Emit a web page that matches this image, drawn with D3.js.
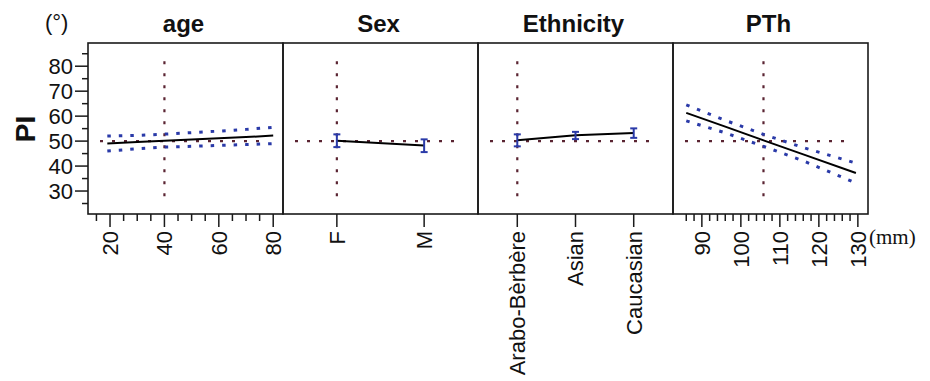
<!DOCTYPE html>
<html>
<head>
<meta charset="utf-8">
<script src="https://cdn.jsdelivr.net/npm/d3@7"></script>
<style>
  body { margin: 0; background: #fff; }
  svg text { font-family: "Liberation Sans", Arial, sans-serif; fill: #111; }
</style>
</head>
<body>
<div id="chart"></div>
<script>
// Giá trị
const yMajor = [30, 40, 50, 60, 70, 80];
const yMinor = d3.range(25, 90, 5);

const ageX     = [19, 30, 40, 50, 60, 70, 80];
const ageFit   = [49.0, 49.6, 50.1, 50.6, 51.1, 51.6, 52.2];
const ageUpper = [52.0, 52.3, 52.8, 53.4, 54.0, 54.7, 55.5];
const ageLower = [46.0, 46.9, 47.6, 47.9, 48.3, 48.6, 49.0];
const ageTicks = [20, 40, 60, 80];
const ageMinor = d3.range(15, 85, 5);

const sexCats = ["F", "M"];
const sexVals = [50.1, 48.2];
const sexLo   = [47.6, 45.6];
const sexHi   = [52.7, 50.7];

const ethCats = ["Arabo-Bèrbère", "Asian", "Caucasian"];
const ethVals = [50.3, 52.3, 53.2];
const ethLo   = [47.9, 50.8, 51.3];
const ethHi   = [52.7, 53.7, 55.1];

const pthX     = [86, 96, 106, 116, 129.5];
const pthFit   = [61.3, 55.8, 50.2, 44.7, 37.2];
const pthUpper = [64.5, 58.3, 52.6, 47.4, 41.2];
const pthLower = [58.1, 53.3, 47.8, 42.1, 33.2];
const pthTicks = [90, 100, 110, 120, 130];
const pthMinor = d3.range(86, 131, 2);

const titles = ["age", "Sex", "Ethnicity", "PTh"];

// Kích thước
const svg = d3.select("#chart").append("svg")
    .attr("width", 930)
    .attr("height", 381);

const panelLeft = 88, panelW = 195, panelTop = 43, panelBottom = 214;
const refColor = "#5a2432", ciColor = "#2a3aa8";

const y = d3.scaleLinear().domain([20.8, 89.3]).range([panelBottom, panelTop]);

// các thang đo x cho từng ô
const xs = [
    d3.scaleLinear().domain([11.9, 83.6]),
    d3.scalePoint().domain(sexCats).padding(0.617),
    d3.scalePoint().domain(ethCats).padding(0.675),
    d3.scaleLinear().domain([82.6, 132.6])
];
xs.forEach((s, i) => s.range([panelLeft + i * panelW, panelLeft + (i + 1) * panelW]));

const refX = [40, "F", "Arabo-Bèrbère", 105.8];

// Vẽ từng ô
xs.forEach((x, i) => {
    const x0 = panelLeft + i * panelW;
    const g = svg.append("g");

    // đường tham chiếu ngang (50) và dọc
    g.append("line")
        .attr("x1", x0 + 12).attr("x2", x0 + panelW - 18)
        .attr("y1", y(50)).attr("y2", y(50))
        .attr("stroke", refColor).attr("stroke-width", 2.2)
        .attr("stroke-dasharray", "3,9");
    g.append("line")
        .attr("x1", x(refX[i])).attr("x2", x(refX[i]))
        .attr("y1", y(82)).attr("y2", y(24.5))
        .attr("stroke", refColor).attr("stroke-width", 2.2)
        .attr("stroke-dasharray", "3,9");

    // khung
    g.append("rect")
        .attr("x", x0).attr("y", panelTop)
        .attr("width", panelW).attr("height", panelBottom - panelTop)
        .attr("fill", "none").attr("stroke", "#1a1a1a").attr("stroke-width", 1.6);

    // tiêu đề
    svg.append("text")
        .attr("x", x0 + panelW / 2 - 2)
        .attr("y", 32)
        .attr("text-anchor", "middle")
        .style("font-size", "24px")
        .style("font-weight", "bold")
        .text(titles[i]);
});

// Ô liên tục: đường hồi quy + khoảng tin cậy
function drawCurve(x, xv, fit, up, lo) {
    const line = d3.line().x((d, k) => x(xv[k])).y(d => y(d));
    [up, lo].forEach(arr => {
        svg.append("path")
            .datum(arr)
            .attr("fill", "none")
            .attr("stroke", ciColor)
            .attr("stroke-width", 3)
            .attr("stroke-dasharray", "3.5,8")
            .attr("d", line);
    });
    svg.append("path")
        .datum(fit)
        .attr("fill", "none")
        .attr("stroke", "#000")
        .attr("stroke-width", 2)
        .attr("d", line);
}
drawCurve(xs[0], ageX, ageFit, ageUpper, ageLower);
drawCurve(xs[3], pthX, pthFit, pthUpper, pthLower);

// Ô phân loại: điểm + thanh sai số
function drawCats(x, cats, vals, lo, hi) {
    svg.append("path")
        .datum(vals)
        .attr("fill", "none")
        .attr("stroke", "#000")
        .attr("stroke-width", 2)
        .attr("d", d3.line().x((d, k) => x(cats[k])).y(d => y(d)));
    cats.forEach((c, k) => {
        const cx = x(c);
        const eg = svg.append("g")
            .attr("stroke", ciColor).attr("stroke-width", 2);
        eg.append("line").attr("x1", cx).attr("x2", cx).attr("y1", y(lo[k])).attr("y2", y(hi[k]));
        eg.append("line").attr("x1", cx - 3.5).attr("x2", cx + 3.5).attr("y1", y(lo[k])).attr("y2", y(lo[k]));
        eg.append("line").attr("x1", cx - 3.5).attr("x2", cx + 3.5).attr("y1", y(hi[k])).attr("y2", y(hi[k]));
    });
}
drawCats(xs[1], sexCats, sexVals, sexLo, sexHi);
drawCats(xs[2], ethCats, ethVals, ethLo, ethHi);

// Trục y
const yAxis = svg.append("g");
yAxis.selectAll("line")
    .data(yMinor)
    .enter().append("line")
    .attr("x1", d => panelLeft - (yMajor.includes(d) ? 13 : 6))
    .attr("x2", panelLeft)
    .attr("y1", d => y(d)).attr("y2", d => y(d))
    .attr("stroke", "#1a1a1a").attr("stroke-width", 1.5);
yAxis.selectAll("text")
    .data(yMajor)
    .enter().append("text")
    .attr("x", panelLeft - 15)
    .attr("y", d => y(d))
    .attr("dy", "0.36em")
    .attr("text-anchor", "end")
    .style("font-size", "22px")
    .text(d => d);

// Trục x
function xAxis(x, major, minor) {
    const g = svg.append("g");
    g.selectAll("line")
        .data(minor)
        .enter().append("line")
        .attr("x1", d => x(d)).attr("x2", d => x(d))
        .attr("y1", panelBottom)
        .attr("y2", d => panelBottom + (major.includes(d) ? 13 : 7))
        .attr("stroke", "#1a1a1a").attr("stroke-width", 1.5);
    g.selectAll("text")
        .data(major)
        .enter().append("text")
        .attr("transform", d => `translate(${x(d)},231) rotate(-90)`)
        .attr("dy", "0.36em")
        .attr("text-anchor", "end")
        .style("font-size", "22px")
        .text(d => d);
}
xAxis(xs[0], ageTicks, ageMinor);
xAxis(xs[1], sexCats, sexCats);
xAxis(xs[2], ethCats, ethCats);
xAxis(xs[3], pthTicks, pthMinor);

// Nhãn trục
svg.append("text")
    .attr("transform", "translate(35,129) rotate(-90)")
    .attr("text-anchor", "middle")
    .style("font-size", "28px")
    .style("font-weight", "bold")
    .text("PI");

svg.append("text")
    .attr("x", 45).attr("y", 30)
    .style("font-size", "22px")
    .text("(°)");

svg.append("text")
    .attr("x", 869).attr("y", 244)
    .style("font-family", "'Liberation Serif', 'Times New Roman', serif")
    .style("font-size", "21px")
    .text("(mm)");
</script>
</body>
</html>
